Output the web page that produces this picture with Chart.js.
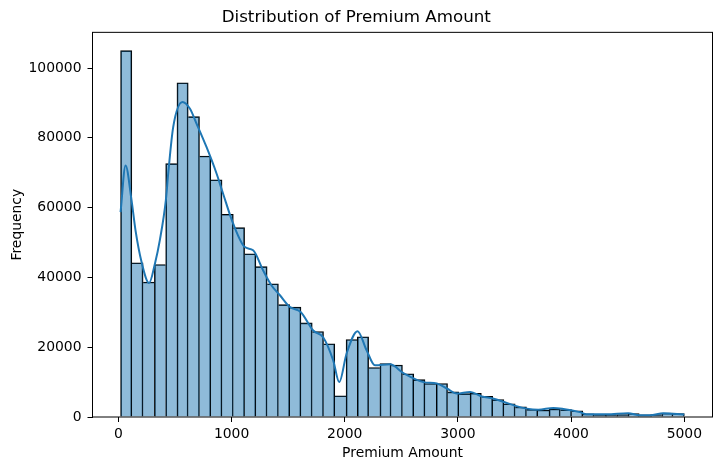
<!DOCTYPE html>
<html>
<head>
<meta charset="utf-8">
<script src="https://cdn.jsdelivr.net/npm/chart.js@4.4.1/dist/chart.umd.min.js"></script>
<style>
    html, body { margin: 0; padding: 0; background: #fff; }
</style>
</head>
<body>
<canvas id="graficoPrima" width="721" height="470"></canvas>
<script>
// Histograma: 50 intervalos entre el mínimo y el máximo
const binStart = 19;
const binWidth = 99.62;
const counts = [105000, 44200, 38700, 43700, 72600, 95800, 86100, 74800, 68000, 58100,
                54300, 46800, 43100, 38200, 32200, 31500, 27000, 24500, 21000, 6100,
                22200, 23000, 14200, 15300, 14900, 12400, 10700, 9600, 9600, 7200,
                6700, 6800, 5900, 5000, 3800, 2900, 2200, 2000, 2300, 2100,
                1800, 900, 700, 700, 700, 1000, 600, 700, 1100, 1000];

// Curva KDE
const kdeX = [19, 63, 116, 151, 204, 271, 323, 366, 419, 440, 484, 566, 631, 690, 778, 867,
              925, 1014, 1117, 1190, 1279, 1353, 1427, 1516, 1610, 1721, 1810, 1898, 1951,
              2016, 2113, 2193, 2267, 2400, 2518, 2695, 2813, 2906, 2989, 3108, 3211, 3308,
              3408, 3508, 3608, 3710, 3843, 3931, 4077, 4136, 4313, 4504, 4608, 4697, 4815,
              4903, 5000];
const kdeY = [58700, 72100, 62100, 53500, 44500, 38400, 44000, 50700, 62100, 69800, 83100,
              90300, 88400, 84100, 77400, 69800, 64000, 55400, 48700, 47800, 42000, 37700,
              34900, 31500, 30100, 24800, 22800, 16200, 10000, 18200, 24600, 19100, 14800,
              15100, 12600, 10000, 9600, 8100, 6700, 7200, 5900, 5300, 4300, 3200, 2400,
              2100, 2600, 2300, 1400, 800, 800, 1100, 500, 500, 1100, 900, 700];

const xTicks = [0, 1000, 2000, 3000, 4000, 5000];
const yTicks = [0, 20000, 40000, 60000, 80000, 100000];

const fuente = 'DejaVu Sans';

// Marco completo alrededor del área del gráfico
const marco = {
    id: 'marco',
    afterDatasetsDraw(chart) {
        const { ctx, chartArea: a } = chart;
        ctx.save();
        ctx.strokeStyle = '#000';
        ctx.lineWidth = 1;
        ctx.strokeRect(a.left, a.top, a.right - a.left, a.bottom - a.top);
        ctx.restore();
    }
};

const barras = counts.map((c, i) => ({ x: binStart + binWidth * (i + 0.5), y: c }));
const curva = kdeX.map((x, i) => ({ x: x, y: kdeY[i] }));

// Cada borde compartido lo dibuja solo la barra más alta (una línea de 1px)
const bordeBarra = ctx => {
    const i = ctx.dataIndex;
    const h = counts[i];
    const izq = i === 0 || counts[i - 1] <= h ? 1 : 0;
    const der = i === counts.length - 1 || counts[i + 1] < h ? 1 : 0;
    return { top: 1, left: izq, right: der, bottom: 0 };
};

new Chart(document.getElementById('graficoPrima').getContext('2d'), {
    type: 'bar',
    data: {
        datasets: [
            {
                type: 'line',
                data: curva,
                borderColor: '#1f77b4',
                borderWidth: 2,
                pointRadius: 0,
                fill: false,
                cubicInterpolationMode: 'monotone',
                order: 0
            },
            {
                type: 'bar',
                data: barras,
                backgroundColor: 'rgba(31, 119, 180, 0.5)',
                borderColor: '#000',
                borderSkipped: false,
                borderWidth: bordeBarra,
                barPercentage: 1,
                categoryPercentage: 1,
                order: 1
            }
        ]
    },
    options: {
        responsive: false,
        animation: false,
        layout: { padding: { left: 0, right: 8.5, top: 0, bottom: 0 } },
        plugins: {
            legend: { display: false },
            tooltip: { enabled: false },
            title: {
                display: true,
                text: 'Distribution of Premium Amount',
                color: '#000',
                font: { family: fuente, size: 16.7, weight: 'normal' },
                padding: { top: 7.5, bottom: 4.8 }
            }
        },
        scales: {
            x: {
                type: 'linear',
                min: -229,
                max: 5249,
                offset: false,
                afterBuildTicks: axis => { axis.ticks = xTicks.map(v => ({ value: v })); },
                afterFit: axis => { axis.height = 53; },
                border: { display: false },
                grid: { display: true, offset: false, drawOnChartArea: false, drawTicks: true, tickLength: 5, color: '#000' },
                ticks: { color: '#000', padding: 4, maxRotation: 0, font: { family: fuente, size: 13.9 }, callback: v => String(v) },
                title: { display: true, text: 'Premium Amount', color: '#000', font: { family: fuente, size: 13.9 }, padding: { top: 0, bottom: 8.7 } }
            },
            y: {
                min: 0,
                max: 110250,
                afterBuildTicks: axis => { axis.ticks = yTicks.map(v => ({ value: v })); },
                afterFit: axis => { axis.width = 92.5; },
                border: { display: false },
                grid: { display: true, drawOnChartArea: false, drawTicks: true, tickLength: 5, color: '#000' },
                ticks: { color: '#000', padding: 6, font: { family: fuente, size: 13.9 }, callback: v => String(v) },
                title: { display: true, text: 'Frequency', color: '#000', font: { family: fuente, size: 13.9 }, padding: { top: 9.4, bottom: 0 } }
            }
        }
    },
    plugins: [marco]
});
</script>
</body>
</html>
